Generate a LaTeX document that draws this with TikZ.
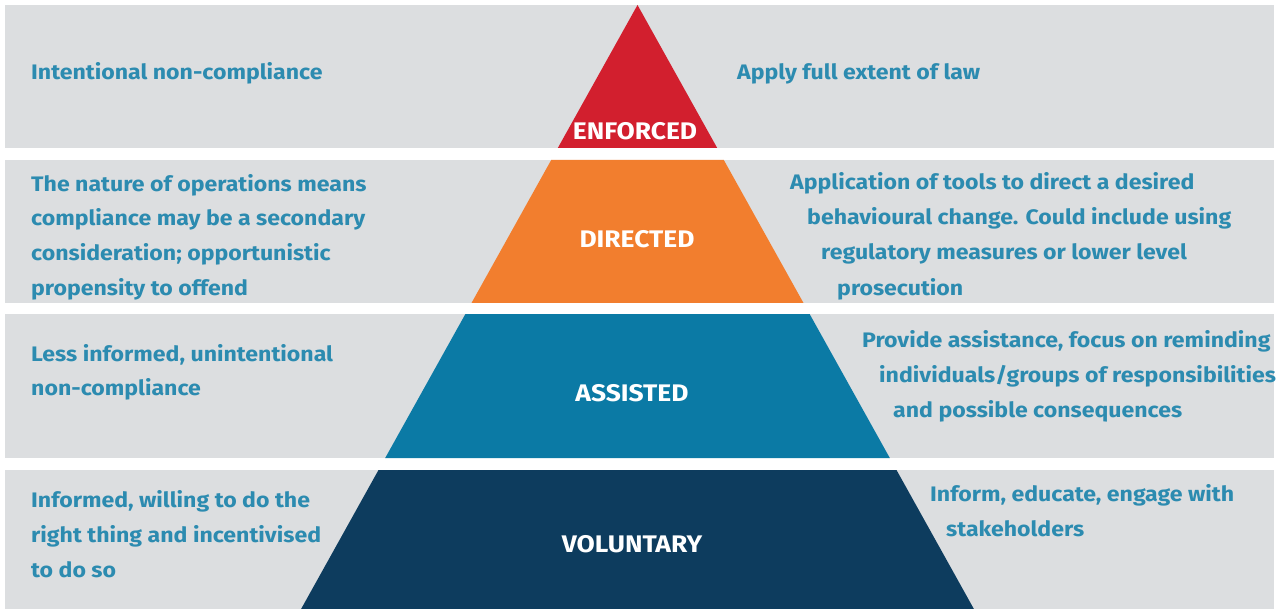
\documentclass[tikz,border=0pt]{standalone}
\usepackage{fontspec}
\setmainfont{Fira Sans}[FakeStretch=1.1]
\definecolor{band}{HTML}{DCDEE0}
\definecolor{txt}{HTML}{2C8BB0}
\definecolor{enf}{HTML}{D21F2E}
\definecolor{dirc}{HTML}{F27E2E}
\definecolor{asst}{HTML}{0B7AA5}
\definecolor{volu}{HTML}{0D3C5E}
\tikzset{
  desc/.style={anchor=base west, inner sep=0pt, text=txt, font=\fontsize{21}{25}\selectfont\bfseries},
  tier/.style={anchor=base, inner sep=0pt, text=white, font=\fontsize{24}{28}\selectfont\bfseries},
}
\begin{document}
\begin{tikzpicture}[x=1pt,y=-1pt]
\useasboundingbox (0,0) rectangle (1281,609);
\fill[white] (0,0) rectangle (1281,609);
% grey bands
\fill[band] (5,5) rectangle (1274,148);
\fill[band] (5,160) rectangle (1274,303);
\fill[band] (5,314) rectangle (1274,458);
\fill[band] (5,470) rectangle (1274,609);
% pyramid tiers
\fill[enf]  (637.5,5) -- (717.2,148) -- (557.8,148) -- cycle;
\fill[dirc] (551.2,160) -- (723.8,160) -- (803.5,303) -- (471.5,303) -- cycle;
\fill[asst] (465.4,314) -- (809.6,314) -- (889.8,458) -- (385.2,458) -- cycle;
\fill[volu] (378.5,470) -- (896.5,470) -- (973.9,609) -- (301.1,609) -- cycle;
% tier names
\node[tier] (tEnf) at (635,140) {ENFORCED};
\node[tier] (tDir) at (637,248) {DIRECTED};
\node[tier] (tAss) at (632,401) {ASSISTED};
\node[tier] (tVol) at (632,552) {VOLUNTARY};
% left descriptions
\node[desc] (a1) at (31,80) {Intentional non-compliance};
\node[desc] (b1) at (31,192) {The nature of operations means};
\node[desc] (b2) at (31,226) {compliance may be a secondary};
\node[desc] (b3) at (31,261) {consideration; opportunistic};
\node[desc] (b4) at (31,296) {propensity to offend};
\node[desc] (c1) at (31,361) {Less informed, unintentional};
\node[desc] (c2) at (31,395) {non-compliance};
\node[desc] (d1) at (31,507) {Informed, willing to do the};
\node[desc] (d2) at (31,542) {right thing and incentivised};
\node[desc] (d3) at (31,577) {to do so};
% right descriptions
\node[desc] (e1) at (737,80) {Apply full extent of law};
\node[desc] (f1) at (790,190) {Application of tools to direct a desired};
\node[desc] (f2) at (807,225) {behavioural change. Could include using};
\node[desc] (f3) at (821,260) {regulatory measures or lower level};
\node[desc] (f4) at (837,296) {prosecution};
\node[desc] (g1) at (862,347) {Provide assistance, focus on reminding};
\node[desc] (g2) at (879,382) {individuals/groups of responsibilities};
\node[desc] (g3) at (893,417) {and possible consequences};
\node[desc] (h1) at (930,501) {Inform, educate, engage with};
\node[desc] (h2) at (946,536) {stakeholders};
\end{tikzpicture}
\end{document}
